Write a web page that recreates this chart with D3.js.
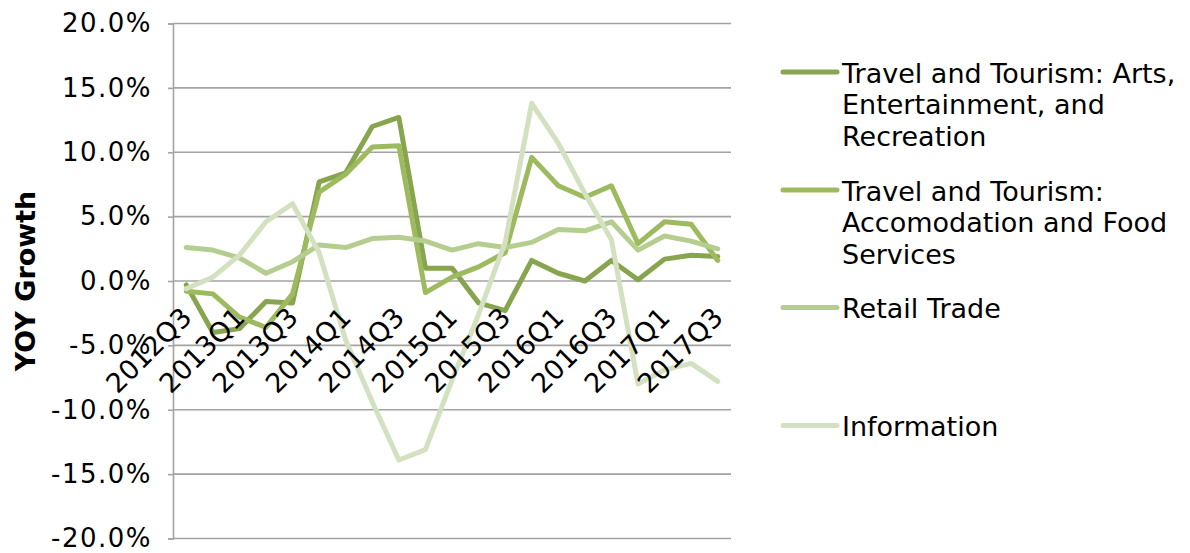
<!DOCTYPE html>
<html>
<head>
<meta charset="utf-8">
<script src="https://cdn.jsdelivr.net/npm/d3@7"></script>
<style>
  html, body { margin: 0; padding: 0; background: #fff; }
  svg { display: block; font-family: "DejaVu Sans", Verdana, sans-serif; }
</style>
</head>
<body>
<svg id="chart" width="1190" height="553"></svg>
<script>
// Quarterly year-over-year growth, in percent
const quarters = ["2012Q3","2012Q4","2013Q1","2013Q2","2013Q3","2013Q4","2014Q1","2014Q2","2014Q3","2014Q4",
                  "2015Q1","2015Q2","2015Q3","2015Q4","2016Q1","2016Q2","2016Q3","2016Q4","2017Q1","2017Q2","2017Q3"];
const artsValues   = [-0.3, -4.0, -3.7, -1.6, -1.7, 7.7, 8.4, 12.0, 12.7, 1.0, 1.0, -1.7, -2.3, 1.6, 0.6, 0.0, 1.6, 0.1, 1.7, 2.0, 1.9];
const accomValues  = [-0.8, -1.0, -2.8, -3.6, -1.0, 6.9, 8.3, 10.4, 10.5, -0.9, 0.3, 1.1, 2.2, 9.6, 7.4, 6.5, 7.4, 2.9, 4.6, 4.4, 1.6];
const retailValues = [2.6, 2.4, 1.8, 0.6, 1.5, 2.8, 2.6, 3.3, 3.4, 3.1, 2.4, 2.9, 2.6, 3.0, 4.0, 3.9, 4.6, 2.4, 3.5, 3.1, 2.5];
const infoValues   = [-0.6, 0.3, 2.0, 4.6, 6.0, 2.2, -4.6, -9.4, -13.9, -13.1, -7.7, -2.6, 3.0, 13.8, 10.7, 6.8, 3.2, -8.0, -6.9, -6.4, -7.8];

const seriesNames = [
  ["Travel and Tourism: Arts,", "Entertainment, and", "Recreation"],
  ["Travel and Tourism:", "Accomodation and Food", "Services"],
  ["Retail Trade"],
  ["Information"]
];
const seriesColors = ["#87a44e", "#9dbb5e", "#b6cd90", "#d3e1c1"];
const seriesValues = [artsValues, accomValues, retailValues, infoValues];

const yTicks = [-20, -15, -10, -5, 0, 5, 10, 15, 20];
const xLabelEvery = 2;
const yTitle = "YOY Growth";

const svg = d3.select("#chart");
const plot = { left: 173, right: 731, top: 23.5, bottom: 538.5 };

const x = d3.scaleBand().domain(quarters).range([plot.left, plot.right]);
const y = d3.scaleLinear().domain([-20, 20]).range([plot.bottom, plot.top]);
const cx = q => x(q) + x.bandwidth() / 2;

// horizontal gridlines
svg.append("g")
  .selectAll("line")
  .data(yTicks)
  .join("line")
  .attr("x1", plot.left).attr("x2", plot.right)
  .attr("y1", d => y(d)).attr("y2", d => y(d))
  .attr("stroke", "#a3a3a3").attr("stroke-width", 1.6);

// value axis (plain hyphen for negatives)
const pct = d3.format(".1f");
const yAxis = d3.axisLeft(y)
  .tickValues(yTicks)
  .tickSize(5)
  .tickPadding(16)
  .tickFormat(d => pct(d).replace("\u2212", "-") + "%");
const yg = svg.append("g").attr("transform", `translate(${plot.left},0)`).call(yAxis);
yg.select(".domain").attr("stroke", "#a3a3a3").attr("stroke-width", 1.6);
yg.selectAll(".tick line").attr("stroke", "#a3a3a3").attr("stroke-width", 1.6);
yg.selectAll("text").attr("font-size", 26).attr("fill", "#000")
  .attr("letter-spacing", 1.5)
  .attr("font-family", "'DejaVu Sans', Verdana, sans-serif");

// value axis title
svg.append("text")
  .attr("transform", `translate(35,${y(0)}) rotate(-90)`)
  .attr("text-anchor", "middle")
  .attr("font-size", 27).attr("font-weight", "bold").attr("fill", "#000")
  .text(yTitle);

// series lines
const line = d3.line()
  .x((d, i) => cx(quarters[i]))
  .y(d => y(d));

svg.append("g")
  .selectAll("path")
  .data(seriesValues)
  .join("path")
  .attr("d", d => line(d))
  .attr("fill", "none")
  .attr("stroke", (d, i) => seriesColors[i])
  .attr("stroke-width", 5)
  .attr("stroke-linejoin", "round")
  .attr("stroke-linecap", "round");

// category labels, rotated, hanging below the zero line
svg.append("g")
  .selectAll("text")
  .data(quarters.filter((q, i) => i % xLabelEvery === 0))
  .join("text")
  .attr("transform", d => `translate(${cx(d) + 7},${y(0) + 38}) rotate(-45)`)
  .attr("text-anchor", "end")
  .attr("font-size", 27).attr("fill", "#000")
  .text(d => d);

// legend
const legendRows = [72, 190, 307.5, 425.5];
const lg = svg.append("g");
seriesNames.forEach((lines, i) => {
  const g = lg.append("g").attr("transform", `translate(0,${legendRows[i]})`);
  g.append("line")
    .attr("x1", 783).attr("x2", 837)
    .attr("y1", 0).attr("y2", 0)
    .attr("stroke", seriesColors[i]).attr("stroke-width", 5)
    .attr("stroke-linecap", "round");
  const t = g.append("text")
    .attr("x", 842).attr("y", 10.5)
    .attr("font-size", 27).attr("fill", "#000");
  lines.forEach((s, k) => {
    t.append("tspan").attr("x", 842).attr("dy", k === 0 ? 0 : 31.7).text(s);
  });
});
</script>
</body>
</html>
